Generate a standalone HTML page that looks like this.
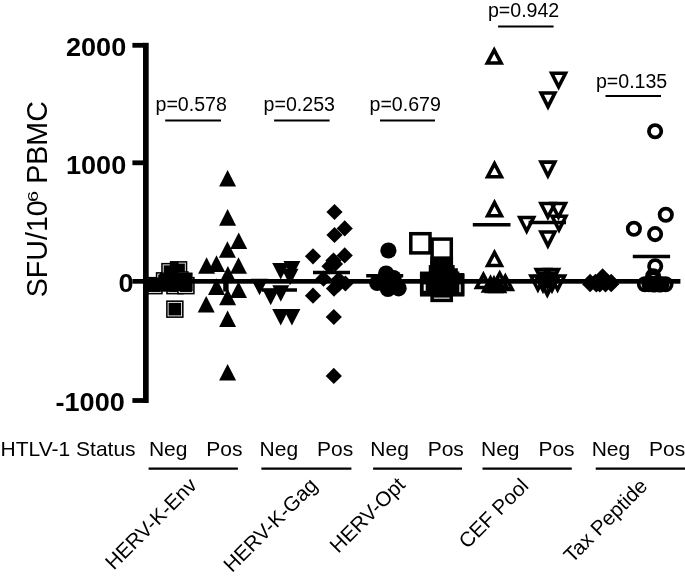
<!DOCTYPE html><html><head><meta charset="utf-8"><title>chart</title>
<style>html,body{margin:0;padding:0;background:#fff}svg{display:block;will-change:transform}text{font-family:"Liberation Sans",sans-serif;fill:#000}</style></head><body>
<svg width="685" height="578" viewBox="0 0 685 578">
<rect width="685" height="578" fill="#fff"/>
<g font-weight="bold" font-size="25.8" text-anchor="end">
<text transform="translate(126.2,56.2) scale(1.05,1)">2000</text>
<text transform="translate(126.2,174) scale(1.05,1)">1000</text>
<text transform="translate(133.6,292.3) scale(1.05,1)">0</text>
<text transform="translate(124.8,410.7) scale(1.05,1)">-1000</text>
</g>
<text transform="translate(46.9,297.2) rotate(-90) scale(1,1.06)" font-size="28.6">SFU/10</text>
<text transform="translate(37.9,202.1) rotate(-90) scale(1.28,1)" font-size="15.5">6</text>
<text transform="translate(46.9,183.8) rotate(-90) scale(1,1.06)" font-size="28.6">PBMC</text>
<text x="155.5" y="111.2" font-size="19.6">p=0.578</text>
<line x1="165.2" x2="221" y1="120.5" y2="120.5" stroke="#000" stroke-width="2.0"/>
<text x="263.6" y="111.2" font-size="19.6">p=0.253</text>
<line x1="274.1" x2="329.6" y1="120.5" y2="120.5" stroke="#000" stroke-width="2.0"/>
<text x="369.5" y="111.2" font-size="19.6">p=0.679</text>
<line x1="380" x2="435" y1="120.5" y2="120.5" stroke="#000" stroke-width="2.0"/>
<text x="487.90000000000003" y="16.9" font-size="19.6">p=0.942</text>
<line x1="498.1" x2="553.6" y1="26.5" y2="26.5" stroke="#000" stroke-width="2.0"/>
<text x="595.9" y="87.6" font-size="19.6">p=0.135</text>
<line x1="605.5" x2="661" y1="96.0" y2="96.0" stroke="#000" stroke-width="2.0"/>
<g font-size="21">
<text x="0.6" y="455.8">HTLV-1 Status</text>
<text x="148.9" y="455.8">Neg</text>
<text x="206.3" y="455.8">Pos</text>
<line x1="148.6" x2="237.9" y1="468.7" y2="468.7" stroke="#000" stroke-width="2.2"/>
<text x="259.6" y="455.8">Neg</text>
<text x="317.0" y="455.8">Pos</text>
<line x1="261.4" x2="351.4" y1="468.7" y2="468.7" stroke="#000" stroke-width="2.2"/>
<text x="370.3" y="455.8">Neg</text>
<text x="427.7" y="455.8">Pos</text>
<line x1="373.1" x2="462" y1="468.7" y2="468.7" stroke="#000" stroke-width="2.2"/>
<text x="481.0" y="455.8">Neg</text>
<text x="538.4" y="455.8">Pos</text>
<line x1="482.5" x2="571.8" y1="468.7" y2="468.7" stroke="#000" stroke-width="2.2"/>
<text x="591.7" y="455.8">Neg</text>
<text x="649.1" y="455.8">Pos</text>
<line x1="595.7" x2="685" y1="468.7" y2="468.7" stroke="#000" stroke-width="2.2"/>
</g>
<text transform="translate(198,486.5) rotate(-45)" font-size="20.7" text-anchor="end">HERV-K-Env</text>
<text transform="translate(318.7,486.5) rotate(-45)" font-size="20.7" text-anchor="end">HERV-K-Gag</text>
<text transform="translate(406.4,486) rotate(-45)" font-size="20.7" text-anchor="end">HERV-Opt</text>
<text transform="translate(529.8,487) rotate(-45)" font-size="20.7" text-anchor="end">CEF Pool</text>
<text transform="translate(648.6,487.3) rotate(-45)" font-size="20.7" text-anchor="end">Tax Peptide</text>
<g fill="#000">
<rect x="145.2" y="276.9" width="17.5" height="17.5" fill="#000"/><rect x="147.2" y="278.9" width="13.5" height="13.5" fill="#000" stroke="#fff" stroke-width="0.85"/>
<rect x="155.8" y="272.1" width="17.5" height="17.5" fill="#000"/><rect x="157.8" y="274.1" width="13.5" height="13.5" fill="#000" stroke="#fff" stroke-width="0.85"/>
<rect x="161.2" y="262.9" width="17.5" height="17.5" fill="#000"/><rect x="163.2" y="264.9" width="13.5" height="13.5" fill="#000" stroke="#fff" stroke-width="0.85"/>
<rect x="169.8" y="261.1" width="17.5" height="17.5" fill="#000"/><rect x="171.8" y="263.1" width="13.5" height="13.5" fill="#000" stroke="#fff" stroke-width="0.85"/>
<rect x="166.2" y="276.9" width="17.5" height="17.5" fill="#000"/><rect x="168.2" y="278.9" width="13.5" height="13.5" fill="#000" stroke="#fff" stroke-width="0.85"/>
<rect x="177.2" y="276.9" width="17.5" height="17.5" fill="#000"/><rect x="179.2" y="278.9" width="13.5" height="13.5" fill="#000" stroke="#fff" stroke-width="0.85"/>
<rect x="159.2" y="274.2" width="17.5" height="17.5" fill="#000"/><rect x="161.2" y="276.2" width="13.5" height="13.5" fill="#000" stroke="#fff" stroke-width="0.85"/>
<rect x="171.2" y="271.2" width="17.5" height="17.5" fill="#000"/><rect x="173.2" y="273.2" width="13.5" height="13.5" fill="#000" stroke="#fff" stroke-width="0.85"/>
<rect x="166.1" y="300.4" width="17.5" height="17.5" fill="#000"/><rect x="168.1" y="302.4" width="13.5" height="13.5" fill="#000" stroke="#fff" stroke-width="0.85"/>
<rect x="170.4" y="261.6" width="8.2" height="12"/><rect x="160" y="272.5" width="32.6" height="18.5"/><rect x="148.7" y="277.5" width="12.3" height="13.5"/>
<polygon points="219.1,186.6 236.1,186.6 227.6,170.0"/>
<polygon points="219.1,225.7 236.1,225.7 227.6,209.1"/>
<polygon points="230.2,249.1 247.2,249.1 238.7,232.5"/>
<polygon points="218.9,257.8 235.9,257.8 227.4,241.2"/>
<polygon points="198.1,273.8 215.1,273.8 206.6,257.2"/>
<polygon points="208.0,271.9 225.0,271.9 216.5,255.3"/>
<polygon points="230.0,273.8 247.0,273.8 238.5,257.2"/>
<polygon points="219.4,282.6 236.4,282.6 227.9,266.0"/>
<polygon points="208.0,294.9 225.0,294.9 216.5,278.3"/>
<polygon points="230.0,298.1 247.0,298.1 238.5,281.5"/>
<polygon points="219.1,305.3 236.1,305.3 227.6,288.7"/>
<polygon points="197.7,312.6 214.7,312.6 206.2,296.0"/>
<polygon points="219.1,327.1 236.1,327.1 227.6,310.5"/>
<polygon points="219.1,380.5 236.1,380.5 227.6,363.9"/>
<rect x="223.2" y="283" width="5.4" height="8.6"/>
<polygon points="283.4,261.0 300.4,261.0 291.9,277.6"/>
<polygon points="272.2,263.0 289.2,263.0 280.7,279.6"/>
<polygon points="281.5,268.7 298.5,268.7 290.0,285.3"/>
<polygon points="251.0,278.7 268.0,278.7 259.5,295.3"/>
<polygon points="262.2,288.7 279.2,288.7 270.7,305.3"/>
<polygon points="272.3,285.2 289.3,285.2 280.8,301.8"/>
<polygon points="272.2,309.0 289.2,309.0 280.7,325.6"/>
<polygon points="283.4,309.0 300.4,309.0 291.9,325.6"/>
<line x1="262" x2="297" y1="290" y2="290" stroke="#000" stroke-width="3.5"/>
<polygon points="326.4,212.0 334.5,203.9 342.6,212.0 334.5,220.1"/>
<polygon points="336.6,228.4 344.7,220.3 352.8,228.4 344.7,236.5"/>
<polygon points="326.4,235.0 334.5,226.9 342.6,235.0 334.5,243.1"/>
<polygon points="336.6,255.4 344.7,247.3 352.8,255.4 344.7,263.5"/>
<polygon points="304.9,256.3 313.0,248.2 321.1,256.3 313.0,264.4"/>
<polygon points="325.4,260.5 333.5,252.4 341.6,260.5 333.5,268.6"/>
<polygon points="321.4,266.3 329.5,258.2 337.6,266.3 329.5,274.4"/>
<polygon points="326.9,264.0 335.0,255.9 343.1,264.0 335.0,272.1"/>
<polygon points="315.4,278.7 323.5,270.6 331.6,278.7 323.5,286.8"/>
<polygon points="330.7,279.6 338.8,271.5 346.9,279.6 338.8,287.7"/>
<polygon points="337.3,283.5 345.4,275.4 353.5,283.5 345.4,291.6"/>
<polygon points="325.9,288.6 334.0,280.5 342.1,288.6 334.0,296.7"/>
<polygon points="330.4,284.5 338.5,276.4 346.6,284.5 338.5,292.6"/>
<polygon points="304.9,295.7 313.0,287.6 321.1,295.7 313.0,303.8"/>
<polygon points="325.7,317.0 333.8,308.9 341.9,317.0 333.8,325.1"/>
<polygon points="325.7,375.9 333.8,367.8 341.9,375.9 333.8,384.0"/>
<line x1="313" x2="350" y1="272.5" y2="272.5" stroke="#000" stroke-width="3.5"/>
<circle cx="388.4" cy="250.5" r="8.1"/>
<circle cx="386.1" cy="273.5" r="8.1"/>
<circle cx="393.5" cy="278.0" r="8.1"/>
<circle cx="377.2" cy="282.9" r="8.1"/>
<circle cx="387.9" cy="288.9" r="8.1"/>
<circle cx="398.6" cy="288.3" r="8.1"/>
<line x1="366.2" x2="403.2" y1="275.8" y2="275.8" stroke="#000" stroke-width="3.5"/>
<rect x="410.8" y="233.7" width="19.2" height="19.2" fill="none" stroke="#000" stroke-width="3.5"/>
<rect x="432.1" y="239.1" width="19.2" height="19.2" fill="none" stroke="#000" stroke-width="3.5"/>
<rect x="432.1" y="258.4" width="19.2" height="19.2" fill="none" stroke="#000" stroke-width="3.5"/>
<rect x="432.1" y="262.4" width="19.2" height="19.2" fill="none" stroke="#000" stroke-width="3.5"/>
<rect x="433.7" y="266.8" width="19.2" height="19.2" fill="none" stroke="#000" stroke-width="3.5"/>
<rect x="436.9" y="270.0" width="19.2" height="19.2" fill="none" stroke="#000" stroke-width="3.5"/>
<rect x="438.4" y="273.2" width="19.2" height="19.2" fill="none" stroke="#000" stroke-width="3.5"/>
<rect x="430.5" y="266.8" width="19.2" height="19.2" fill="none" stroke="#000" stroke-width="3.5"/>
<rect x="421.7" y="273.3" width="19.2" height="19.2" fill="none" stroke="#000" stroke-width="3.5"/>
<rect x="421.7" y="275.6" width="19.2" height="19.2" fill="none" stroke="#000" stroke-width="3.5"/>
<rect x="443.4" y="274.8" width="19.2" height="19.2" fill="none" stroke="#000" stroke-width="3.5"/>
<rect x="443.4" y="275.6" width="19.2" height="19.2" fill="none" stroke="#000" stroke-width="3.5"/>
<rect x="432.1" y="281.2" width="19.2" height="19.2" fill="none" stroke="#000" stroke-width="3.5"/>
<rect x="432.1" y="271.4" width="19.2" height="19.2" fill="none" stroke="#000" stroke-width="3.5"/>
<rect x="430.5" y="258.5" width="22.5" height="8"/><rect x="433" y="260" width="18" height="37.6"/><rect x="425.7" y="272" width="32.9" height="21.5"/><rect x="423" y="274" width="3" height="10.4"/><rect x="458.4" y="274" width="3" height="10.4"/>
<polygon points="487.33,63.05 501.07,63.05 494.20,50.01" fill="none" stroke="#000" stroke-width="3.6" stroke-linejoin="miter"/>
<polygon points="487.63,176.75 501.37,176.75 494.50,163.71" fill="none" stroke="#000" stroke-width="3.6" stroke-linejoin="miter"/>
<polygon points="487.63,215.75 501.37,215.75 494.50,202.71" fill="none" stroke="#000" stroke-width="3.6" stroke-linejoin="miter"/>
<polygon points="487.63,265.55 501.37,265.55 494.50,252.51" fill="none" stroke="#000" stroke-width="3.6" stroke-linejoin="miter"/>
<polygon points="476.53,287.55 490.27,287.55 483.40,274.51" fill="none" stroke="#000" stroke-width="3.6" stroke-linejoin="miter"/>
<polygon points="492.83,286.35 506.57,286.35 499.70,273.31" fill="none" stroke="#000" stroke-width="3.6" stroke-linejoin="miter"/>
<polygon points="498.43,289.35 512.17,289.35 505.30,276.31" fill="none" stroke="#000" stroke-width="3.6" stroke-linejoin="miter"/>
<polygon points="487.13,291.55 500.87,291.55 494.00,278.51" fill="none" stroke="#000" stroke-width="3.6" stroke-linejoin="miter"/>
<polygon points="483.63,291.05 497.37,291.05 490.50,278.01" fill="none" stroke="#000" stroke-width="3.6" stroke-linejoin="miter"/>
<polygon points="490.63,291.35 504.37,291.35 497.50,278.31" fill="none" stroke="#000" stroke-width="3.6" stroke-linejoin="miter"/>
<line x1="472.8" x2="510.5" y1="224.7" y2="224.7" stroke="#000" stroke-width="3.5"/>
<polygon points="551.68,73.25 565.52,73.25 558.60,86.87" fill="none" stroke="#000" stroke-width="3.6" stroke-linejoin="miter"/>
<polygon points="541.08,93.05 554.92,93.05 548.00,106.67" fill="none" stroke="#000" stroke-width="3.6" stroke-linejoin="miter"/>
<polygon points="540.98,162.15 554.82,162.15 547.90,175.77" fill="none" stroke="#000" stroke-width="3.6" stroke-linejoin="miter"/>
<polygon points="540.98,203.45 554.82,203.45 547.90,217.07" fill="none" stroke="#000" stroke-width="3.6" stroke-linejoin="miter"/>
<polygon points="551.58,203.45 565.42,203.45 558.50,217.07" fill="none" stroke="#000" stroke-width="3.6" stroke-linejoin="miter"/>
<polygon points="552.08,216.25 565.92,216.25 559.00,229.87" fill="none" stroke="#000" stroke-width="3.6" stroke-linejoin="miter"/>
<polygon points="519.78,217.45 533.62,217.45 526.70,231.07" fill="none" stroke="#000" stroke-width="3.6" stroke-linejoin="miter"/>
<polygon points="540.98,232.05 554.82,232.05 547.90,245.67" fill="none" stroke="#000" stroke-width="3.6" stroke-linejoin="miter"/>
<polygon points="536.28,269.45 550.12,269.45 543.20,283.07" fill="none" stroke="#000" stroke-width="3.6" stroke-linejoin="miter"/>
<polygon points="544.58,269.45 558.42,269.45 551.50,283.07" fill="none" stroke="#000" stroke-width="3.6" stroke-linejoin="miter"/>
<polygon points="530.98,275.95 544.82,275.95 537.90,289.57" fill="none" stroke="#000" stroke-width="3.6" stroke-linejoin="miter"/>
<polygon points="550.68,275.95 564.52,275.95 557.60,289.57" fill="none" stroke="#000" stroke-width="3.6" stroke-linejoin="miter"/>
<polygon points="540.38,281.05 554.22,281.05 547.30,294.67" fill="none" stroke="#000" stroke-width="3.6" stroke-linejoin="miter"/>
<polygon points="540.58,273.05 554.42,273.05 547.50,286.67" fill="none" stroke="#000" stroke-width="3.6" stroke-linejoin="miter"/>
<polygon points="536.08,276.55 549.92,276.55 543.00,290.17" fill="none" stroke="#000" stroke-width="3.6" stroke-linejoin="miter"/>
<polygon points="545.08,276.55 558.92,276.55 552.00,290.17" fill="none" stroke="#000" stroke-width="3.6" stroke-linejoin="miter"/>
<line x1="528.6" x2="566" y1="222.4" y2="222.4" stroke="#000" stroke-width="3.5"/>
<polygon points="582.0,281.9 590.1,273.8 598.2,281.9 590.1,290.0"/>
<polygon points="582.0,284.2 590.1,276.1 598.2,284.2 590.1,292.3"/>
<polygon points="587.3,281.9 595.4,273.8 603.5,281.9 595.4,290.0"/>
<polygon points="588.2,284.4 596.3,276.3 604.4,284.4 596.3,292.5"/>
<polygon points="591.7,284.4 599.8,276.3 607.9,284.4 599.8,292.5"/>
<polygon points="594.5,276.4 602.6,268.3 610.7,276.4 602.6,284.5"/>
<polygon points="594.5,281.0 602.6,272.9 610.7,281.0 602.6,289.1"/>
<polygon points="597.4,284.4 605.5,276.3 613.6,284.4 605.5,292.5"/>
<polygon points="603.1,281.9 611.2,273.8 619.3,281.9 611.2,290.0"/>
<polygon points="603.1,284.2 611.2,276.1 619.3,284.2 611.2,292.3"/>
<polygon points="598.9,281.5 607.0,273.4 615.1,281.5 607.0,289.6"/>
<polygon points="590.9,281.5 599.0,273.4 607.1,281.5 599.0,289.6"/>
<circle cx="655.1" cy="131.3" r="6.15" fill="none" stroke="#000" stroke-width="3.8"/>
<circle cx="665.8" cy="214.8" r="6.15" fill="none" stroke="#000" stroke-width="3.8"/>
<circle cx="633.9" cy="228.8" r="6.15" fill="none" stroke="#000" stroke-width="3.8"/>
<circle cx="655.1" cy="234.1" r="6.15" fill="none" stroke="#000" stroke-width="3.8"/>
<circle cx="655.2" cy="266.3" r="6.15" fill="none" stroke="#000" stroke-width="3.8"/>
<circle cx="653.1" cy="276.2" r="6.15" fill="none" stroke="#000" stroke-width="3.8"/>
<circle cx="653.3" cy="279.5" r="6.15" fill="none" stroke="#000" stroke-width="3.8"/>
<circle cx="644.9" cy="284.2" r="6.15" fill="none" stroke="#000" stroke-width="3.8"/>
<circle cx="649.5" cy="284.2" r="6.15" fill="none" stroke="#000" stroke-width="3.8"/>
<circle cx="652.5" cy="284.2" r="6.15" fill="none" stroke="#000" stroke-width="3.8"/>
<circle cx="655.5" cy="284.2" r="6.15" fill="none" stroke="#000" stroke-width="3.8"/>
<circle cx="658.5" cy="284.2" r="6.15" fill="none" stroke="#000" stroke-width="3.8"/>
<circle cx="661.3" cy="284.2" r="6.15" fill="none" stroke="#000" stroke-width="3.8"/>
<circle cx="665.5" cy="284.2" r="6.15" fill="none" stroke="#000" stroke-width="3.8"/>
<circle cx="651.0" cy="283.8" r="6.15" fill="none" stroke="#000" stroke-width="3.8"/>
<circle cx="654.0" cy="284.5" r="6.15" fill="none" stroke="#000" stroke-width="3.8"/>
<circle cx="657.0" cy="283.8" r="6.15" fill="none" stroke="#000" stroke-width="3.8"/>
<circle cx="660.0" cy="284.5" r="6.15" fill="none" stroke="#000" stroke-width="3.8"/>
<line x1="632.8" x2="670.1" y1="256.4" y2="256.4" stroke="#000" stroke-width="3.5"/>
</g>
<rect x="132.4" y="279" width="548" height="4.7" fill="#000"/>
<g id="axis">
<rect x="143" y="42.8" width="5.7" height="360.2" fill="#000"/>
<rect x="132.4" y="42.9" width="12" height="4.8" fill="#000"/>
<rect x="132.4" y="160.4" width="12" height="4.8" fill="#000"/>
<rect x="132.4" y="398.1" width="12" height="4.8" fill="#000"/>
</g>
</svg></body></html>
